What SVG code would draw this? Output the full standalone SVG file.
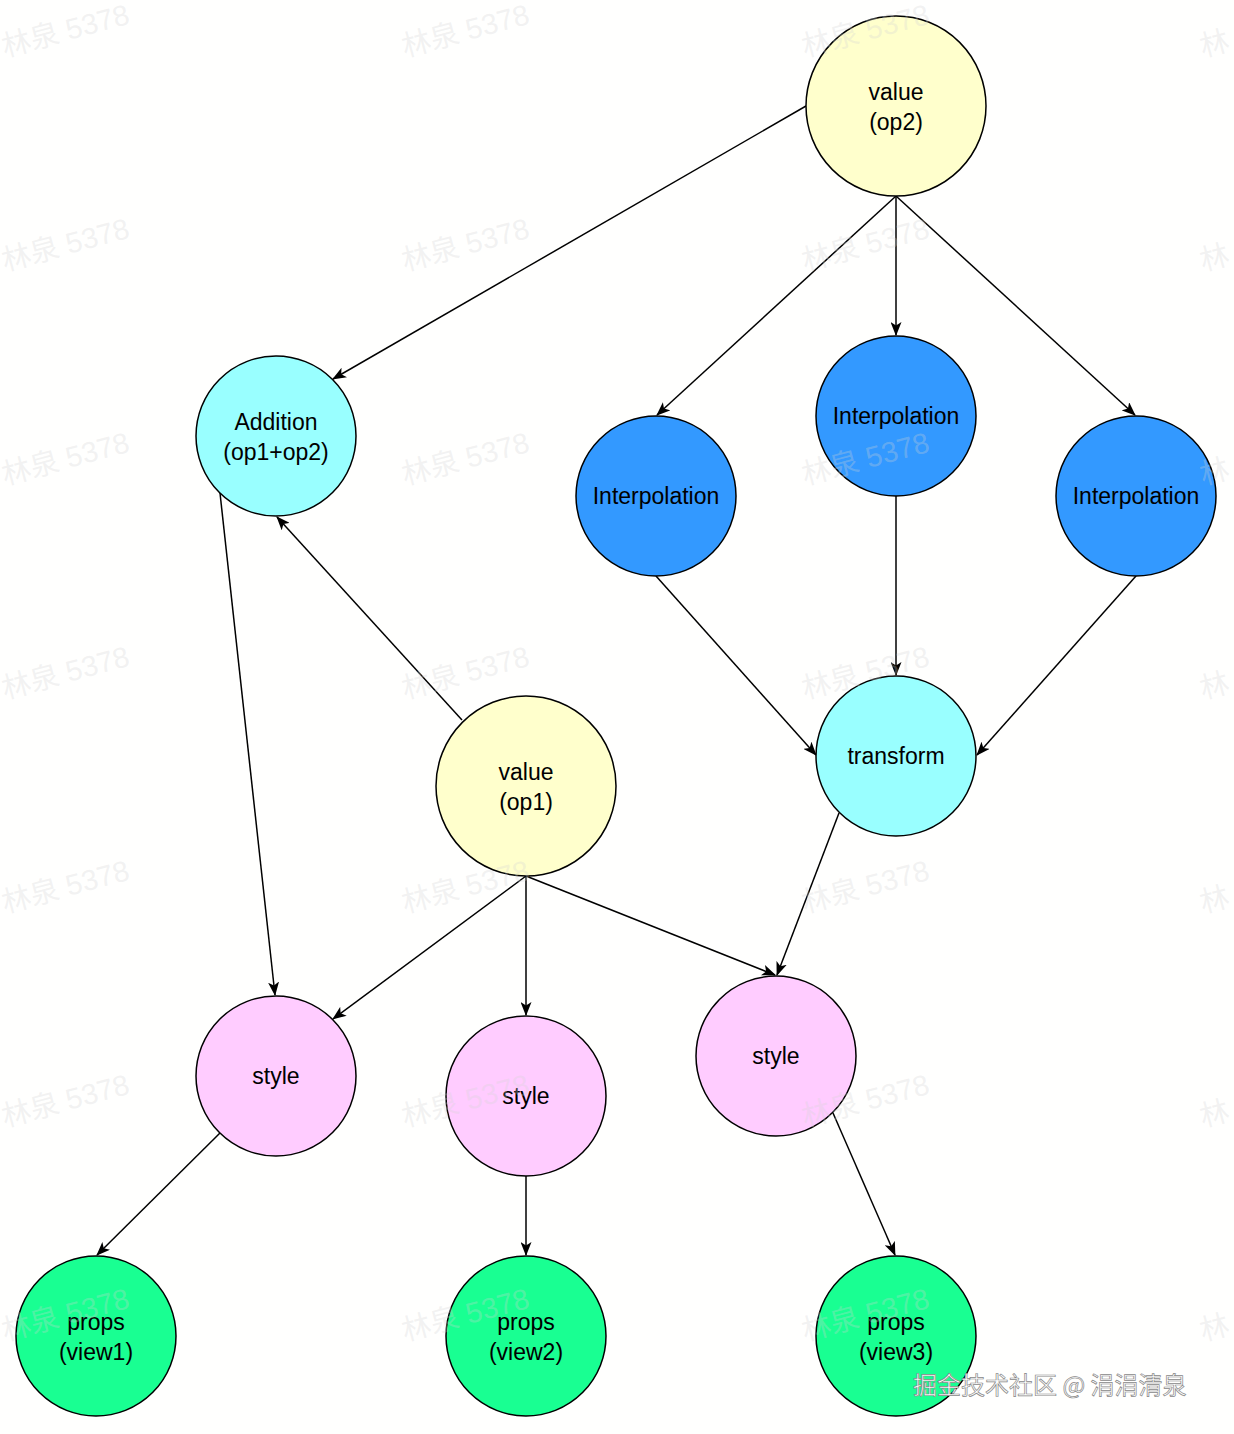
<svg xmlns="http://www.w3.org/2000/svg" width="1234" height="1434" viewBox="0 0 1234 1434">
<defs>
<style>
.n{stroke:#000;stroke-width:1.5}
.y{fill:#ffffcc}.c{fill:#99ffff}.b{fill:#3399ff}.p{fill:#ffccff}.g{fill:#19ff92}
.t{font-family:"Liberation Sans",Arial,Helvetica,sans-serif;font-size:23px;fill:#000;text-anchor:middle}
.e{fill:none;stroke:#000;stroke-width:1.5}
.w{font-family:"Liberation Sans","Noto Sans CJK SC",sans-serif;font-size:29px;fill:#d4d4d4;fill-opacity:0.3}
.m{font-family:"Noto Sans CJK SC","Liberation Sans",sans-serif;font-size:24px;fill:#fff;stroke:#888;stroke-width:0.7}
</style>
<marker id="a" viewBox="0 0 14 11" refX="13" refY="5.5" markerWidth="14" markerHeight="11" markerUnits="userSpaceOnUse" orient="auto">
<path d="M0,0 L14,5.5 L0,11 L3.5,5.5 z" fill="#000"/>
</marker>
</defs>
<rect width="1234" height="1434" fill="#fffffe"/>
<g id="connectors">
<path class="e" marker-end="url(#a)" d="M806,106 L333,379"/>
<path class="e" marker-end="url(#a)" d="M896,196 L657,415"/>
<path class="e" marker-end="url(#a)" d="M896,196 L896,335"/>
<path class="e" marker-end="url(#a)" d="M896,196 L1135,415"/>
<path class="e" marker-end="url(#a)" d="M656,576 L816,755"/>
<path class="e" marker-end="url(#a)" d="M896,496 L896,675"/>
<path class="e" marker-end="url(#a)" d="M1136,576 L977,755"/>
<path class="e" marker-end="url(#a)" d="M462,720 L277,517"/>
<path class="e" marker-end="url(#a)" d="M220,493 L275,995"/>
<path class="e" marker-end="url(#a)" d="M526,876 L333,1019"/>
<path class="e" marker-end="url(#a)" d="M526,876 L526,1015"/>
<path class="e" marker-end="url(#a)" d="M526,876 L775,975"/>
<path class="e" marker-end="url(#a)" d="M839,813 L777,975"/>
<path class="e" marker-end="url(#a)" d="M220,1133 L97,1255"/>
<path class="e" marker-end="url(#a)" d="M526,1176 L526,1255"/>
<path class="e" marker-end="url(#a)" d="M833,1113 L895,1255"/>
</g>
<g id="op2"><circle class="n y" cx="896" cy="106" r="90"/><text class="t" x="896" y="100">value</text><text class="t" x="896" y="130">(op2)</text></g>
<g id="addition"><circle class="n c" cx="276" cy="436" r="80"/><text class="t" x="276" y="430">Addition</text><text class="t" x="276" y="460">(op1+op2)</text></g>
<g id="interp1"><circle class="n b" cx="656" cy="496" r="80"/><text class="t" x="656" y="504">Interpolation</text></g>
<g id="interp2"><circle class="n b" cx="896" cy="416" r="80"/><text class="t" x="896" y="424">Interpolation</text></g>
<g id="interp3"><circle class="n b" cx="1136" cy="496" r="80"/><text class="t" x="1136" y="504">Interpolation</text></g>
<g id="transform"><circle class="n c" cx="896" cy="756" r="80"/><text class="t" x="896" y="764">transform</text></g>
<g id="op1"><circle class="n y" cx="526" cy="786" r="90"/><text class="t" x="526" y="780">value</text><text class="t" x="526" y="810">(op1)</text></g>
<g id="style1"><circle class="n p" cx="276" cy="1076" r="80"/><text class="t" x="276" y="1084">style</text></g>
<g id="style2"><circle class="n p" cx="526" cy="1096" r="80"/><text class="t" x="526" y="1104">style</text></g>
<g id="style3"><circle class="n p" cx="776" cy="1056" r="80"/><text class="t" x="776" y="1064">style</text></g>
<g id="props1"><circle class="n g" cx="96" cy="1336" r="80"/><text class="t" x="96" y="1330">props</text><text class="t" x="96" y="1360">(view1)</text></g>
<g id="props2"><circle class="n g" cx="526" cy="1336" r="80"/><text class="t" x="526" y="1330">props</text><text class="t" x="526" y="1360">(view2)</text></g>
<g id="props3"><circle class="n g" cx="896" cy="1336" r="80"/><text class="t" x="896" y="1330">props</text><text class="t" x="896" y="1360">(view3)</text></g>
<g id="watermarks">
<text class="w" transform="translate(5,57) rotate(-15)">林泉 5378</text>
<text class="w" transform="translate(405,57) rotate(-15)">林泉 5378</text>
<text class="w" transform="translate(805,57) rotate(-15)">林泉 5378</text>
<text class="w" transform="translate(1203,57) rotate(-15)">林</text>
<text class="w" transform="translate(5,271) rotate(-15)">林泉 5378</text>
<text class="w" transform="translate(405,271) rotate(-15)">林泉 5378</text>
<text class="w" transform="translate(805,271) rotate(-15)">林泉 5378</text>
<text class="w" transform="translate(1203,271) rotate(-15)">林</text>
<text class="w" transform="translate(5,485) rotate(-15)">林泉 5378</text>
<text class="w" transform="translate(405,485) rotate(-15)">林泉 5378</text>
<text class="w" transform="translate(805,485) rotate(-15)">林泉 5378</text>
<text class="w" transform="translate(1203,485) rotate(-15)">林</text>
<text class="w" transform="translate(5,699) rotate(-15)">林泉 5378</text>
<text class="w" transform="translate(405,699) rotate(-15)">林泉 5378</text>
<text class="w" transform="translate(805,699) rotate(-15)">林泉 5378</text>
<text class="w" transform="translate(1203,699) rotate(-15)">林</text>
<text class="w" transform="translate(5,913) rotate(-15)">林泉 5378</text>
<text class="w" transform="translate(405,913) rotate(-15)">林泉 5378</text>
<text class="w" transform="translate(805,913) rotate(-15)">林泉 5378</text>
<text class="w" transform="translate(1203,913) rotate(-15)">林</text>
<text class="w" transform="translate(5,1127) rotate(-15)">林泉 5378</text>
<text class="w" transform="translate(405,1127) rotate(-15)">林泉 5378</text>
<text class="w" transform="translate(805,1127) rotate(-15)">林泉 5378</text>
<text class="w" transform="translate(1203,1127) rotate(-15)">林</text>
<text class="w" transform="translate(5,1341) rotate(-15)">林泉 5378</text>
<text class="w" transform="translate(405,1341) rotate(-15)">林泉 5378</text>
<text class="w" transform="translate(805,1341) rotate(-15)">林泉 5378</text>
<text class="w" transform="translate(1203,1341) rotate(-15)">林</text>
<text class="m" x="913" y="1394">掘金技术社区 @ 涓涓清泉</text>
</g>
</svg>
